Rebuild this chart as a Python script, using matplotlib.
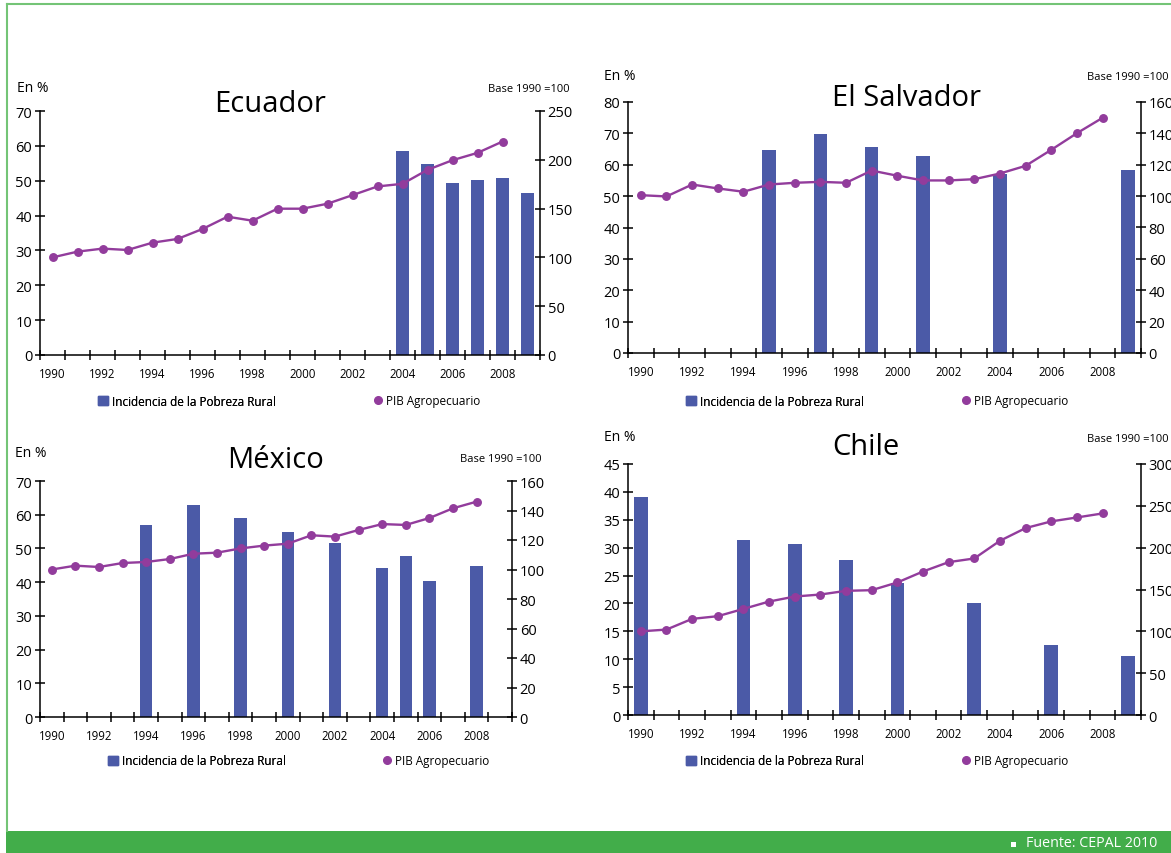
import matplotlib
matplotlib.use("Agg")
import matplotlib.pyplot as plt
import numpy as np
from matplotlib.patches import Rectangle, Patch
from matplotlib.lines import Line2D

plt.rcParams['font.family'] = ['Open Sans', 'DejaVu Sans']

years = list(range(1990, 2010))
line_years = list(range(1990, 2009))
xlabels = [str(y) for y in range(1990, 2009, 2)]

# Ecuador
ecu_bar_years = [2004, 2005, 2006, 2007, 2008, 2009]
ecu_bar_vals = [58.6, 54.8, 49.4, 50.3, 50.8, 46.5]
ecu_pib = [100, 105.9, 109, 107.6, 115.1, 118.9, 129.1, 141.7, 137.6, 149.9,
           149.9, 155, 163.8, 172.7, 175.4, 189.7, 199.6, 207.1, 218.7]

# El Salvador
slv_bar_years = [1995, 1997, 1999, 2001, 2004, 2009]
slv_bar_vals = [64.7, 69.7, 65.6, 62.7, 57.0, 58.4]
slv_pib = [100.6, 99.8, 107.4, 104.9, 102.8, 107.4, 108.5, 109.1, 108.5, 116.3,
           113, 110, 110, 110.8, 114.4, 119.3, 129.5, 140.1, 149.9]

# Mexico
mex_bar_years = [1994, 1996, 1998, 2000, 2002, 2004, 2005, 2006, 2008]
mex_bar_vals = [57.0, 62.9, 59.1, 54.9, 51.7, 44.3, 47.8, 40.4, 44.9]
mex_pib = [100, 102.6, 101.7, 104.4, 105.1, 107.1, 110.7, 111.4, 114.3, 116.2,
           117.5, 123.2, 122.3, 126.8, 130.8, 130.2, 134.9, 141.5, 146]

# Chile
chl_bar_years = [1990, 1994, 1996, 1998, 2000, 2003, 2006, 2009]
chl_bar_vals = [39.0, 31.4, 30.7, 27.8, 23.7, 20.1, 12.6, 10.6]
chl_pib = [100, 102.1, 114.9, 118.1, 126.8, 135.6, 141.6, 144, 148.4, 149.2,
           158.4, 171.5, 182.7, 187.1, 208.2, 223.4, 231.4, 236.1, 240.9]

legend_bar = "Incidencia de la Pobreza Rural"
legend_line = "PIB Agropecuario"
left_unit = "En %"
right_unit = "Base 1990 =100"
source = "Fuente: CEPAL 2010"

BAR_C = "#4b5aa7"
LINE_C = "#923c9c"

W, H = 1171, 854
fig = plt.figure(figsize=(W / 100, H / 100), dpi=100)

def fx(px):
    return px / W

def fy(py):
    return 1 - py / H

def panel(rect_px, name, bar_years, bar_vals, pib, lmax, lstep, rmax, rstep,
          title_xy, en_xy, base_xy, leg_y, leg_sq_x, leg_c_x):
    l, t, r, b = rect_px
    ax = fig.add_axes([fx(l), fy(b), fx(r - l), (b - t) / H])
    ax2 = ax.twinx()
    idx = [years.index(y) for y in bar_years]
    ax.bar(idx, bar_vals, width=0.53, color=BAR_C, zorder=2)
    lx = [years.index(y) for y in line_years]
    ax2.plot(lx, pib, color=LINE_C, lw=1.7, marker='o', ms=5.4, zorder=3)
    ax.set_xlim(-0.5, len(years) - 0.5)
    ax.set_ylim(0, lmax)
    ax2.set_ylim(0, rmax)
    ax.set_yticks(np.arange(0, lmax + 0.01, lstep))
    ax2.set_yticks(np.arange(0, rmax + 0.01, rstep))
    ax.set_yticklabels([f"{int(v)}" for v in np.arange(0, lmax + 0.01, lstep)])
    ax2.set_yticklabels([f"{int(v)}" for v in np.arange(0, rmax + 0.01, rstep)])
    ax.set_xticks(np.arange(-0.5, len(years), 1))
    ax.set_xticklabels([])
    ax.set_xticks([years.index(int(s)) for s in xlabels], minor=True)
    ax.set_xticklabels(xlabels, minor=True)
    ax.tick_params(axis='x', which='major', direction='inout', length=7, width=1.1)
    ax.tick_params(axis='x', which='minor', length=0, labelsize=8.3, pad=9)
    ax.tick_params(axis='y', direction='inout', length=7, width=1.1, labelsize=10.5, pad=2)
    ax2.tick_params(axis='y', direction='inout', length=7, width=1.1, labelsize=10.5, pad=2)
    for a in (ax, ax2):
        a.spines['top'].set_visible(False)
        for s in ('left', 'right', 'bottom'):
            a.spines[s].set_linewidth(1.1)
    ax.spines['right'].set_visible(False)
    ax2.spines['left'].set_visible(False)
    ax2.spines['bottom'].set_visible(False)
    ax.patch.set_visible(False)
    fig.text(fx(title_xy[0]), fy(title_xy[1]), name, fontsize=21, ha='center', va='center')
    fig.text(fx(en_xy[0]), fy(en_xy[1]), left_unit, fontsize=10, ha='left', va='center')
    fig.text(fx(base_xy[0]), fy(base_xy[1]), right_unit, fontsize=8, ha='left', va='center')
    h1 = Patch(color=BAR_C)
    h2 = Line2D([], [], color=LINE_C, marker='o', ls='none', ms=5.5)
    lg1 = ax.legend([h1], [legend_bar], loc='center left', frameon=False,
                    bbox_to_anchor=(fx(leg_sq_x), fy(leg_y)), bbox_transform=fig.transFigure,
                    fontsize=8.5, borderpad=0, borderaxespad=0, handlelength=0.85,
                    handleheight=0.8, handletextpad=0.3)
    ax.add_artist(lg1)
    ax2.legend([h2], [legend_line], loc='center left', frameon=False,
               bbox_to_anchor=(fx(leg_c_x - 5), fy(leg_y)), bbox_transform=fig.transFigure,
               fontsize=8.5, borderpad=0, borderaxespad=0, handlelength=0.8,
               handletextpad=0.3)

panel((40, 112, 540, 356), "Ecuador", ecu_bar_years, ecu_bar_vals, ecu_pib,
      70, 10, 250, 50, (270, 104), (17, 88), (488, 90), 402, 98, 378)
panel((628, 103, 1141, 354), "El Salvador", slv_bar_years, slv_bar_vals, slv_pib,
      80, 10, 160, 20, (906, 98), (604, 76), (1087, 78), 402, 686, 966)
panel((40, 482, 512, 718), "México", mex_bar_years, mex_bar_vals, mex_pib,
      70, 10, 160, 20, (275, 460), (15, 454), (460, 460), 762, 108, 387)
panel((628, 465, 1141, 716), "Chile", chl_bar_years, chl_bar_vals, chl_pib,
      45, 5, 300, 50, (866, 448), (604, 438), (1087, 440), 762, 686, 966)

# frame and footer
GREEN_L = "#74c476"
fig.add_artist(Line2D([fx(7), 1], [fy(5), fy(5)], color=GREEN_L, lw=1.5))
fig.add_artist(Line2D([fx(7), fx(7)], [fy(5), fy(832)], color=GREEN_L, lw=1.5))
fig.add_artist(Rectangle((fx(6), 0), 1 - fx(6), fy(832), color="#42ad4a", lw=0))
fig.add_artist(Rectangle((fx(1011), fy(847.5)), fx(5), 5 / H, color="white", lw=0))
fig.text(fx(1026), fy(844), source, color="white", fontsize=10.3, ha='left', va='center')

fig.savefig("out.png", dpi=100)
